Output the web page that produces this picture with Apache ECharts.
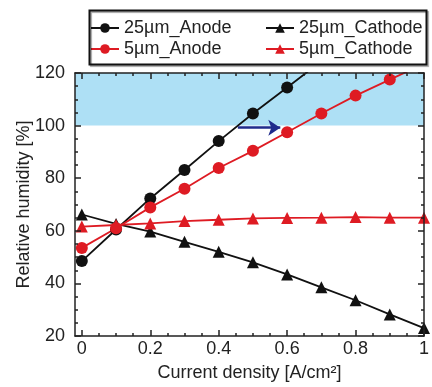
<!DOCTYPE html>
<html><head><meta charset="utf-8">
<script src="https://cdn.jsdelivr.net/npm/echarts@6/dist/echarts.min.js"></script>
<style>html,body{margin:0;padding:0;background:#fff}#c{width:432px;height:387px}</style>
</head><body><div id="c"></div>
<script>
// ---- data ----
const currentDensity = [0, 0.1, 0.2, 0.3, 0.4, 0.5, 0.6, 0.7, 0.8, 0.9, 1.0];
const anode25   = [48.5, 60.5, 72.3, 83.1, 94.1, 104.6, 114.5, 124.5];
const anode5    = [53.5, 61.0, 68.9, 76.0, 83.9, 90.4, 97.5, 104.6, 111.4, 117.5, 123.5];
const cathode25 = [66.2, 62.6, 59.7, 55.8, 52.0, 48.0, 43.4, 38.5, 33.6, 28.2, 23.0];
const cathode5  = [61.6, 62.2, 62.8, 63.7, 64.2, 64.7, 64.9, 65.0, 65.2, 65.0, 65.0];
const seriesNames = ['25\u00b5m_Anode', '5\u00b5m_Anode', '25\u00b5m_Cathode', '5\u00b5m_Cathode'];
const xMajorTicks = [0, 0.2, 0.4, 0.6, 0.8, 1.0];
const xMinorTicks = [0.05, 0.1, 0.15, 0.25, 0.3, 0.35, 0.45, 0.5, 0.55, 0.65, 0.7, 0.75, 0.85, 0.9, 0.95];
const saturatedBand = [100, 120];
const arrowStart = [0.456, 99.2];
const arrowEnd = [0.58, 99.2];

const BLACK = '#111111';
const RED = '#de1b23';
const AX = '#222222';
const FONT = 'Liberation Sans, Arial, sans-serif';

function pairs(vals) { return vals.map((v, i) => [currentDensity[i], v]); }

const chart = echarts.init(document.getElementById('c'), null, {renderer: 'canvas'});

const baseX = {type: 'value', min: -0.02, max: 1, gridIndex: 0, splitLine: {show: false}, z: 10};
function xAx(pos, major, withLine, withLabel) {
  return Object.assign({}, baseX, {
    position: pos,
    axisLine: {show: withLine, onZero: false, lineStyle: {color: AX, width: 1.5}},
    axisTick: {show: true, inside: true, length: major ? 6 : 3, customValues: major ? xMajorTicks : xMinorTicks,
      lineStyle: {color: AX, width: 1.5}},
    axisLabel: withLabel ? {show: true, customValues: xMajorTicks, fontSize: 18, color: AX, fontFamily: FONT, margin: 4}
                         : {show: false},
  });
}
const xAxes = [xAx('bottom', true, true, true), xAx('bottom', false, false, false),
               xAx('top', true, true, false), xAx('top', false, false, false)];
xAxes[0].name = 'Current density [A/cm\u00b2]';
xAxes[0].nameLocation = 'middle';
xAxes[0].nameGap = 28;
xAxes[0].nameMoveOverlap = false;
xAxes[0].nameTextStyle = {fontSize: 18, color: AX, fontFamily: FONT};

function yAx(pos, withLabel) {
  const a = {
    type: 'value', min: 20, max: 120, interval: 20, position: pos, z: 10,
    splitLine: {show: false},
    axisLine: {show: true, onZero: false, lineStyle: {color: AX, width: 1.5}},
    axisTick: {show: true, inside: true, length: 6, lineStyle: {color: AX, width: 1.5}},
    minorTick: {show: true, splitNumber: 4, length: 3, lineStyle: {color: AX, width: 1.5}},
    axisLabel: withLabel ? {fontSize: 18, color: AX, fontFamily: FONT, margin: 10} : {show: false}
  };
  if (withLabel) {
    a.name = 'Relative humidity [%]';
    a.nameLocation = 'middle';
    a.nameGap = 42;
    a.nameMoveOverlap = false;
    a.nameTextStyle = {fontSize: 18, color: AX, fontFamily: FONT};
  }
  return a;
}

function lineSeries(name, vals, color, symbol, size) {
  return {
    name: name, type: 'line', xAxisIndex: 0, yAxisIndex: 0, data: pairs(vals),
    symbol: symbol, symbolSize: size, showAllSymbol: true, clip: true, z: 5,
    lineStyle: {color: color, width: 1.8},
    itemStyle: {color: color},
    emphasis: {disabled: true}
  };
}

const legendCommon = {orient: 'vertical', itemWidth: 28, itemHeight: 12, itemGap: 3,
  textStyle: {fontSize: 18, color: AX, fontFamily: FONT}, selectedMode: false, padding: 0};

const option = {
  animation: false,
  backgroundColor: '#ffffff',
  grid: {left: 75, right: 8, top: 73, bottom: 43, containLabel: false},
  xAxis: xAxes,
  yAxis: [yAx('left', true), yAx('right', false)],
  legend: [
    Object.assign({}, legendCommon, {left: 90, top: 19, data: [seriesNames[0], seriesNames[1]]}),
    Object.assign({}, legendCommon, {left: 265, top: 19, data: [seriesNames[2], seriesNames[3]]})
  ],
  graphic: [{
    type: 'rect', left: 87, top: 8, shape: {width: 337, height: 54},
    style: {fill: 'none', stroke: '#111', lineWidth: 2, shadowColor: 'rgba(0,0,0,0.35)', shadowOffsetX: 1.5, shadowOffsetY: 1.5, shadowBlur: 1},
    z: 100, silent: true
  }],
  series: [
    {
      name: 'band', type: 'line', data: [], z: 1, silent: true,
      markArea: {silent: true, itemStyle: {color: '#aee0f5'},
        data: [[{yAxis: saturatedBand[0]}, {yAxis: saturatedBand[1]}]]},
      markLine: {silent: true, symbol: ['none', 'arrow'], symbolSize: 12, z: 6,
        lineStyle: {color: '#1f2b8c', width: 2.5, type: 'solid'}, itemStyle: {color: '#1f2b8c'},
        label: {show: false},
        data: [[{coord: arrowStart}, {coord: arrowEnd}]]}
    },
    lineSeries(seriesNames[0], anode25, BLACK, 'circle', 12),
    lineSeries(seriesNames[2], cathode25, BLACK, 'triangle', 12),
    lineSeries(seriesNames[1], anode5, RED, 'circle', 12),
    lineSeries(seriesNames[3], cathode5, RED, 'triangle', 12)
  ]
};
chart.setOption(option);
</script>
</body></html>
